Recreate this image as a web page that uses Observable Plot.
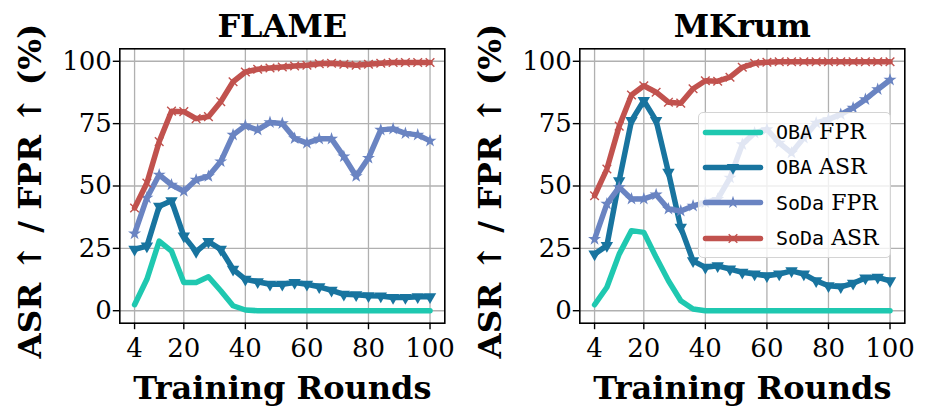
<!DOCTYPE html>
<html><head><meta charset="utf-8">
<script src="https://cdn.jsdelivr.net/npm/d3@7"></script>
<script src="https://cdn.jsdelivr.net/npm/@observablehq/plot@0.6"></script>
<style>
body{margin:0;background:#fff}
#wrap{position:relative;width:927px;height:420px;display:flex;overflow:hidden}
#legend{position:absolute;left:698px;top:112px;width:193px;height:146px;box-sizing:border-box;background:rgba(255,255,255,0.8);border:1px solid #d4d4d4;border-radius:5px;padding-top:1px}
.row{display:flex;align-items:center;height:35.3px}
.row svg{display:block;margin-left:6px;margin-right:16px}
.lbl{font-family:"DejaVu Serif";font-size:22px;white-space:nowrap;color:#000}
.mono{font-family:"DejaVu Sans Mono";font-size:20px}
</style>
</head><body><div id="wrap"></div>
<script>
const rounds = [4,8,12,16,20,24,28,32,36,40,44,48,52,56,60,64,68,72,76,80,84,88,92,96,100];
const xTicks = [4,20,40,60,80,100];
const yTicks = [0,25,50,75,100];
const panelTitles = ["FLAME","MKrum"];
const xLabel = "Training Rounds";
const yLabel = "ASR ↑ / FPR ↑ (%)";
const seriesMethod = ["OBA","OBA","SoDa","SoDa"];
const seriesMetric = ["FPR","ASR","FPR","ASR"];
const seriesColors = ["#1fc8b0","#18749f","#6a84c2","#c1524e"];

const flameObaFpr = [2.4,12.6,27.9,23.9,11.3,11.3,13.6,8,2,0.3,0,0,0,0,0,0,0,0,0,0,0,0,0,0,0];
const flameObaAsr = [24.6,25.9,41.9,44.1,29.9,23.7,27.7,24.6,16.6,12.6,11.6,10.6,10.6,11.3,10.6,9.6,8.2,6.6,6.4,6.0,5.9,5.3,5.3,5.6,5.6];
const flameSodaFpr = [30.9,45.2,54.5,50.5,47.9,52.5,53.9,59.8,70.5,74.2,72.5,75.5,75.1,69.1,67.2,68.9,68.9,61.8,53.9,61.2,72.5,72.9,71.1,70.5,68.1];
const flameSodaAsr = [41.2,51.2,67.8,80,79.8,77,77.8,83.8,91.8,95.7,96.8,97.3,97.7,98.1,98.4,99,99.2,98.8,98.4,98.8,99.2,99.5,99.5,99.5,99.5];

const mkrumObaFpr = [2.4,9.4,22.7,32.1,31.4,21.4,12,4,0.7,0,0,0,0,0,0,0,0,0,0,0,0,0,0,0,0];
const mkrumObaAsr = [22.7,26.1,52.1,76.2,84.2,76.2,55.5,33.4,20,17.4,18,16.7,15.4,14.7,14,14.7,16,14.7,12,10,9.6,11,13.1,13.4,12];
const mkrumSodaFpr = [28.7,42.8,49.5,44.8,44.8,46.5,40.8,40,42,43.3,44.7,53.3,66.7,71.3,72.7,67.3,63.3,69.3,75.3,76.7,78.7,81.3,84.7,88.7,92.5];
const mkrumSodaAsr = [46.1,56.8,74,86.5,90.2,87.6,83.6,83.2,89,92.2,92,93.6,97.6,99.2,99.6,99.8,99.8,99.8,99.8,99.8,99.8,99.8,99.8,99.8,99.8];

const panelValues = [
  [flameObaFpr, flameObaAsr, flameSodaFpr, flameSodaAsr],
  [mkrumObaFpr, mkrumObaAsr, mkrumSodaFpr, mkrumSodaAsr]
];

function markerOpts(k) {
  const c = seriesColors[k];
  if (k === 1) return {symbol: "triangle", rotate: 180, r: 4.6, fill: c, stroke: null};
  if (k === 2) return {symbol: "star", r: 4.1, fill: c, stroke: null};
  if (k === 3) return {symbol: "times", r: 4, stroke: c, strokeWidth: 1.4, fill: null};
  return null;
}

function makePanel(title, values, width) {
  const marks = [
    Plot.gridX(xTicks, {stroke: "#b0b0b0", strokeOpacity: 1, strokeWidth: 1.3}),
    Plot.gridY(yTicks, {stroke: "#b0b0b0", strokeOpacity: 1, strokeWidth: 1.3})
  ];
  values.forEach((vals, k) => {
    const data = rounds.map((r, i) => ({round: r, value: vals[i]}));
    marks.push(Plot.line(data, {x: "round", y: "value", stroke: seriesColors[k], strokeWidth: 5.5, strokeLinejoin: "round"}));
    const m = markerOpts(k);
    if (m) marks.push(Plot.dot(data, {x: "round", y: "value", ...m}));
  });
  marks.push(
    Plot.frame({stroke: "#000", strokeWidth: 1.6}),
    Plot.axisX(xTicks, {anchor: "bottom", tickSize: 6.5, tickPadding: 9, strokeWidth: 1.4, fontSize: 26, label: null}),
    Plot.axisY(yTicks, {anchor: "left", tickSize: 6.5, tickPadding: 1.5, strokeWidth: 1.4, fontSize: 26, label: null}),
    Plot.text([title], {text: d => d, frameAnchor: "top", lineAnchor: "bottom", dy: -11.6, fontSize: 32, fontWeight: "bold"}),
    Plot.text([xLabel], {text: d => d, frameAnchor: "bottom", lineAnchor: "bottom", dy: 75.6, fontSize: 32, fontWeight: "bold"}),
    Plot.text([yLabel], {text: d => d, frameAnchor: "left", textAnchor: "middle", lineAnchor: "middle", rotate: -90, dx: -89.3, dy: 5, fontSize: 32.5, fontWeight: "bold"})
  );
  return Plot.plot({
    width, height: 420,
    marginLeft: 119.3, marginRight: width - 444.3, marginTop: 48.3, marginBottom: 97.3,
    x: {domain: [-0.8, 104.8], axis: null},
    y: {domain: [-5, 105], axis: null},
    style: {fontFamily: "DejaVu Serif", fontSize: "26px", background: "transparent", overflow: "visible", color: "#000"},
    marks
  });
}

const wrap = document.getElementById("wrap");
wrap.append(makePanel(panelTitles[0], panelValues[0], 460));
wrap.append(makePanel(panelTitles[1], panelValues[1], 467));

const legend = document.createElement("div");
legend.id = "legend";
seriesMethod.forEach((method, k) => {
  const row = document.createElement("div");
  row.className = "row";
  const sw = [{t: 0}, {t: 0.5}, {t: 1}];
  const marks = [Plot.line(sw, {x: "t", y: () => 0, stroke: seriesColors[k], strokeWidth: 5.5})];
  const m = markerOpts(k);
  if (m) marks.push(Plot.dot(sw.filter(d => d.t === 0.5), {x: "t", y: () => 0, ...m}));
  const swatch = Plot.plot({
    width: 55, height: 16, margin: 0,
    x: {domain: [0, 1], axis: null}, y: {domain: [-1, 1], axis: null},
    style: {background: "transparent", overflow: "visible"},
    marks
  });
  row.append(swatch);
  const lbl = document.createElement("span");
  lbl.className = "lbl";
  lbl.innerHTML = `<span class="mono">${method}</span> ${seriesMetric[k]}`;
  row.append(lbl);
  legend.append(row);
});
wrap.append(legend);
</script>
</body></html>
